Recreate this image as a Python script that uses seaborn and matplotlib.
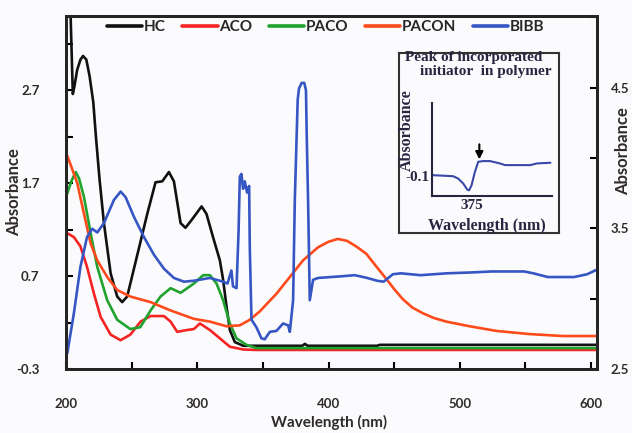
import pandas as pd
import matplotlib
matplotlib.use("Agg")
import matplotlib.pyplot as plt
import seaborn as sns
from matplotlib.ticker import FixedLocator

# --- Data ---
series_names = ["HC", "ACO", "PACO", "PACON", "BIBB"]
series_colors = ["#111111", "#f42424", "#1fa32e", "#ff4a1c", "#3656c4"]

hc_x = [202.5, 205.2, 206.5, 208.5, 211, 213, 215.5, 218, 220.8, 222.8, 225.5, 228.9, 234, 239, 242.8,
        246.6, 254, 261.9, 268.2, 273.3, 278.4, 282.2, 287.3, 291, 296, 303.3, 307, 312, 317.2, 319.7,
        322.3, 324.8, 328.6, 335, 380, 382, 384, 437, 439, 604.5]
hc_y = [4.0, 2.66, 2.75, 2.92, 3.03, 3.07, 3.03, 2.85, 2.57, 2.2, 1.75, 1.27, 0.73, 0.48, 0.42,
        0.48, 0.91, 1.37, 1.71, 1.72, 1.82, 1.72, 1.27, 1.22, 1.31, 1.45, 1.37, 1.12, 0.87, 0.66,
        0.37, 0.12, -0.01, -0.05, -0.05, -0.03, -0.05, -0.05, -0.04, -0.04]

aco_x = [200, 206, 211, 216, 221.3, 226.4, 234, 241.6, 249, 256.8, 264.4, 274.6, 279.7, 284.7,
         292.4, 297.4, 302, 309.6, 317.2, 324.8, 335, 345, 604.5]
aco_y = [1.17, 1.12, 1.02, 0.80, 0.51, 0.26, 0.07, 0.01, 0.07, 0.21, 0.27, 0.27, 0.21, 0.10,
         0.12, 0.13, 0.19, 0.12, 0.03, -0.06, -0.09, -0.095, -0.095]

paco_x = [200, 201, 204, 207.4, 210, 213.7, 218.8, 223.8, 231.4, 239, 249, 256.6, 264.4, 272,
          279.7, 287.3, 297.4, 304.5, 309.6, 314.7, 319.7, 324.8, 329.9, 337.5, 345, 604.5]
paco_y = [1.55, 1.59, 1.72, 1.82, 1.75, 1.55, 1.16, 0.80, 0.44, 0.23, 0.13, 0.15, 0.33, 0.48,
          0.57, 0.52, 0.62, 0.71, 0.71, 0.62, 0.44, 0.19, 0.03, -0.04, -0.075, -0.075]

pacon_x = [200, 204, 208.6, 213.7, 218.8, 223.8, 231.4, 239, 249, 264.4, 279.7, 297.4, 309.6,
           322.3, 332.4, 340, 347.6, 360.3, 370.5, 380.6, 392, 400, 407, 414, 421, 428.8, 436,
           444, 450, 456.7, 464, 471.9, 480, 489.7, 507.5, 527.8, 553, 578.5, 604.5]
pacon_y = [2.03, 1.88, 1.70, 1.37, 1.05, 0.87, 0.69, 0.55, 0.48, 0.42, 0.33, 0.24, 0.21,
           0.16, 0.17, 0.23, 0.32, 0.51, 0.69, 0.87, 1.01, 1.07, 1.10, 1.08, 1.02, 0.94, 0.81,
           0.67, 0.56, 0.45, 0.36, 0.30, 0.25, 0.21, 0.16, 0.11, 0.076, 0.055, 0.055]

bibb_x = [200, 201, 206, 211, 216, 220, 223.8, 228.9, 236.5, 241.6, 245.4, 251.7, 259.4, 267,
          274.6, 282.2, 289.8, 297.4, 309.6, 319.7, 323, 326, 327.2, 329.9, 331.5, 332.4, 333.6,
          334.9, 336.2, 337.9, 339.5, 340, 341.3, 345, 348.9, 351.4, 355.3, 360.3, 365.4, 369.2,
          370.5, 373, 374.3, 375.6, 376.5, 377.5, 379.5, 381.5, 382.8, 383.4, 384.4, 385.7, 388.2,
          392, 411.7, 420, 429.5, 437, 442, 449, 455, 470, 490, 510, 524, 549, 556, 567, 587, 597, 604.5]
bibb_y = [-0.15, -0.13, 0.30, 0.80, 1.12, 1.21, 1.17, 1.27, 1.52, 1.61, 1.55, 1.34, 1.12, 0.93,
          0.78, 0.68, 0.64, 0.65, 0.68, 0.64, 0.62, 0.76, 0.59, 0.57, 1.2, 1.77, 1.80,
          1.64, 1.72, 1.60, 1.67, 1.01, 0.23, 0.15, 0.03, 0.02, 0.10, 0.11, 0.19, 0.17,
          0.10, 0.44, 1.52, 2.16, 2.6, 2.72, 2.78, 2.78, 2.70, 2.2, 1.52, 0.44, 0.66,
          0.68, 0.70, 0.71, 0.68, 0.65, 0.64, 0.72, 0.73, 0.71, 0.73, 0.74, 0.75, 0.75, 0.73, 0.69, 0.69, 0.72, 0.77]

series_x = [hc_x, aco_x, paco_x, pacon_x, bibb_x]
series_y = [hc_y, aco_y, paco_y, pacon_y, bibb_y]
draw_order = [1, 3, 0, 2, 4]  # ACO, PACON, HC, PACO, BIBB

# axis ticks
x_major = [200, 300, 400, 500, 600]
x_minor = [250, 350, 450, 550]
left_major = [-0.3, 0.7, 1.7, 2.7]
left_minor = [0.2, 1.2, 2.2, 3.2]
right_major = [2.5, 3.5, 4.5]
right_minor = [3.0, 4.0, 5.0]

# inset: absorbance around the incorporated initiator peak
inset_x = [360.6, 368.1, 370, 371.9, 373.4, 374.1, 375, 376.25, 377.5, 379.4, 381.9, 385.6,
           387.5, 396.9, 399.4, 404.4]
inset_y = [-0.097, -0.100, -0.107, -0.122, -0.140, -0.142, -0.127, -0.087, -0.057, -0.055,
           -0.055, -0.062, -0.067, -0.067, -0.062, -0.060]
inset_xticks = [375]
inset_yticks = [-0.1]
arrow_x = 377.9
arrow_y_from, arrow_y_to = -0.005, -0.05

# --- Style ---
sns.set_style("ticks")
plt.rcParams['font.family'] = ['Lato', 'DejaVu Sans']
plt.rcParams['font.weight'] = 'bold'
plt.rcParams['axes.labelweight'] = 'bold'

bg = '#fbfbfd'
txt = '#2e2b28'
W, H = 632, 433

fig = plt.figure(figsize=(W / 100, H / 100), dpi=100, facecolor=bg)
ax = fig.add_axes([66 / W, 1 - 369 / H, 531 / W, 353 / H], facecolor=bg)

for i in draw_order:
    df = pd.DataFrame({'wl': series_x[i], 'abs': series_y[i]})
    sns.lineplot(data=df, x='wl', y='abs', ax=ax, color=series_colors[i], lw=1.9,
                 estimator=None, sort=False, label=series_names[i], zorder=2 + i)

ax.set_xlim(200, 604.5)
ax.set_ylim(-0.3, 3.5)
ax.xaxis.set_major_locator(FixedLocator(x_major))
ax.xaxis.set_minor_locator(FixedLocator(x_minor))
ax.yaxis.set_major_locator(FixedLocator(left_major))
ax.yaxis.set_minor_locator(FixedLocator(left_minor))
ax.set_yticklabels([f"{v:.1f}" for v in left_major])
ax.tick_params(axis='both', which='both', direction='in', length=5, width=1.5, colors='black',
               labelcolor=txt, labelsize=9.5)
ax.tick_params(axis='x', pad=21)
ax.tick_params(axis='y', pad=19)
for s in ax.spines.values():
    s.set_linewidth(2)
    s.set_color('black')

ax.set_xlabel('Wavelength (nm)', fontsize=11, color=txt)
ax.xaxis.set_label_coords(0.495, -0.13)
ax.set_ylabel('Absorbance', fontsize=12, color=txt)
ax.yaxis.set_label_coords(-0.083, 0.5)

# legend in the original order
handles, labels = ax.get_legend_handles_labels()
order = [labels.index(n) for n in series_names]
leg = ax.legend([handles[k] for k in order], [labels[k] for k in order], ncol=5, frameon=False,
                loc='center', bbox_to_anchor=(0.489, 0.969), fontsize=11, handlelength=2.3,
                handletextpad=0.1, columnspacing=1.1, borderaxespad=0)
for h in leg.get_lines():
    h.set_linewidth(2.6)

# right axis
ax2 = ax.twinx()
ax2.set_ylim(2.5, 5.01)
ax2.yaxis.set_major_locator(FixedLocator(right_major))
ax2.yaxis.set_minor_locator(FixedLocator(right_minor))
ax2.set_yticklabels([f"{v:.1f}" for v in right_major])
ax2.tick_params(axis='y', which='both', direction='in', length=5, width=1.5, colors='black',
                labelcolor=txt, labelsize=9.5, pad=10)
ax2.set_ylabel('Absorbance', fontsize=12, color=txt)
ax2.yaxis.set_label_coords(1.034, 0.616)
for s in ax2.spines.values():
    s.set_linewidth(2)

# --- Inset ---
serif = ['Liberation Serif', 'DejaVu Serif']
ink = '#2a2440'
frame = fig.add_axes([399 / W, 1 - 233 / H, 160 / W, 180 / H], facecolor=bg)
frame.set_xticks([])
frame.set_yticks([])
for s in frame.spines.values():
    s.set_linewidth(1.5)
    s.set_color('#333333')

ax_in = fig.add_axes([432 / W, 1 - 196 / H, 120 / W, 93 / H], facecolor='none')
sns.lineplot(x=inset_x, y=inset_y, ax=ax_in, color='#3a48a8', lw=1.5, estimator=None, sort=False)
ax_in.set_xlim(360.25, 405)
ax_in.set_ylim(-0.159, 0.118)
ax_in.set_xticks(inset_xticks)
ax_in.set_yticks(inset_yticks)
ax_in.set_xticklabels([str(v) for v in inset_xticks], family=serif, fontsize=11, color=ink)
ax_in.set_yticklabels([f"{v:.1f}" for v in inset_yticks], family=serif, fontsize=11, color=ink)
ax_in.tick_params(length=0, pad=2)
sns.despine(ax=ax_in)
for s in ['left', 'bottom']:
    ax_in.spines[s].set_linewidth(1.5)
    ax_in.spines[s].set_color(ink)
ax_in.annotate('', xy=(arrow_x, arrow_y_to), xytext=(arrow_x, arrow_y_from),
               arrowprops=dict(arrowstyle='-|>', color='black', lw=1.5, mutation_scale=11,
                               shrinkA=0, shrinkB=0))
ax_in.set_xlabel('Wavelength (nm)', family=serif, fontsize=11.5, color=ink)
ax_in.xaxis.set_label_coords(0.46, -0.235)
ax_in.set_ylabel('Absorbance', family=serif, fontsize=11.5, color=ink)
ax_in.yaxis.set_label_coords(-0.14, 0.71)

fig.text(473.5 / W, 1 - 57 / H, 'Peak of incorporated', family=serif, fontsize=11, color=ink,
         ha='center', va='center', weight='bold')
fig.text(486 / W, 1 - 72 / H, 'initiator  in polymer', family=serif, fontsize=11, color=ink,
         ha='center', va='center', weight='bold')

plt.savefig('out.png', dpi=100, facecolor=bg)
plt.close()
